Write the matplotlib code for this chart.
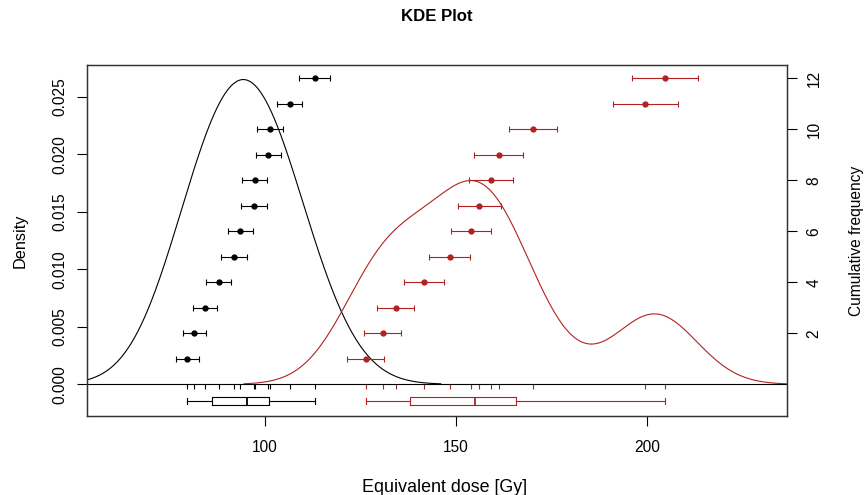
import matplotlib
matplotlib.use("Agg")
import matplotlib.pyplot as plt
import numpy as np

plt.rcParams['font.family'] = ['Liberation Sans', 'DejaVu Sans']

# equivalent doses (sorted) and their errors
de_black = [79.7, 81.5, 84.3, 87.9, 91.9, 93.5, 97.0, 97.3, 100.9, 101.3, 106.4, 113.0]
err_black = [2.9, 3.1, 3.1, 3.3, 3.4, 3.3, 3.4, 3.3, 3.4, 3.4, 3.3, 4.0]
de_red = [126.3, 130.8, 134.2, 141.6, 148.3, 153.9, 156.1, 159.1, 161.1, 170.2, 199.5, 204.7]
err_red = [4.8, 4.8, 4.9, 5.2, 5.3, 5.3, 5.6, 5.7, 6.3, 6.3, 8.5, 8.6]
bw_black = 11.0
bw_red = 10.6

density_ticks = [0.000, 0.005, 0.010, 0.015, 0.020, 0.025]
freq_ticks = [2, 4, 6, 8, 10, 12]
dose_ticks = [100, 150, 200]

BLACK = '#000000'
RED = '#B22222'


def kde(values, bw):
  # gaussian kernel density, range like R's density() (cut = 3)
  v = np.asarray(values)
  grid = np.linspace(v.min() - 3 * bw, v.max() + 3 * bw, 512)
  d = np.exp(-0.5 * ((grid[:, None] - v[None, :]) / bw) ** 2).sum(axis=1)
  d = d / (len(v) * bw * np.sqrt(2 * np.pi))
  return grid, d


def box_stats(values):
  # Tukey hinges like R's fivenum()
  v = np.sort(np.asarray(values))
  n = len(v)
  n4 = np.floor((n + 3) / 2) / 2
  idx = np.array([1, n4, (n + 1) / 2, n + 1 - n4, n]) - 1
  fn = 0.5 * (v[np.floor(idx).astype(int)] + v[np.ceil(idx).astype(int)])
  iqr = fn[3] - fn[1]
  lo = v[v >= fn[1] - 1.5 * iqr].min()
  hi = v[v <= fn[3] + 1.5 * iqr].max()
  return dict(med=fn[2], q1=fn[1], q3=fn[3], whislo=lo, whishi=hi, fliers=[])


fig = plt.figure(figsize=(8.67, 4.95), dpi=100)
ax = fig.add_axes([87 / 867, 79 / 495, 700 / 867, 351 / 495])
ax2 = ax.twinx()

ax.set_xlim(53.4, 236.6)
ax.set_ylim(-0.002757, 0.02777)
ax2.set_ylim(-1.243, 12.52)

for vals, errs, bw, col in [(de_black, err_black, bw_black, BLACK),
                            (de_red, err_red, bw_red, RED)]:
  g, d = kde(vals, bw)
  ax.plot(g, d, color=col, lw=0.8)
  # rug
  ax.vlines(vals, -0.00045, 0, color=col, lw=0.8)
  # boxplot
  ax.bxp([box_stats(vals)], positions=[-0.00145], widths=0.0007, vert=False,
         showfliers=False, capwidths=0.00045,
         boxprops=dict(color=col, lw=0.8),
         whiskerprops=dict(color=col, lw=0.8),
         capprops=dict(color=col, lw=0.8),
         medianprops=dict(color=col, lw=1.3))
  # cumulative frequency with error bars
  ax2.errorbar(vals, np.arange(1, len(vals) + 1), xerr=errs, fmt='o', color=col,
               ms=3.5, lw=0.8, capsize=2.5, capthick=0.8)

ax.axhline(0, color='black', lw=0.8)

ax.set_xticks(dose_ticks)
ax.set_xticklabels([str(t) for t in dose_ticks])
ax.set_yticks(density_ticks)
ax.set_yticklabels(['%.3f' % t for t in density_ticks], rotation=90, va='center')
ax2.set_yticks(freq_ticks)
ax2.set_yticklabels([str(t) for t in freq_ticks], rotation=90, va='center')

ax.tick_params(axis='x', length=7, width=0.8, labelsize=11.2, pad=10)
ax.tick_params(axis='y', length=7, width=0.8, labelsize=11.2, pad=7)
ax2.tick_params(axis='y', length=7, width=0.8, labelsize=11.2, pad=7)
for a in (ax, ax2):
  for s in a.spines.values():
    s.set_linewidth(0.9)
    s.set_color('#333333')

fig.text(436.7 / 867, 1 - 16.5 / 495, 'KDE Plot', ha='center', va='center',
         fontsize=12.1, fontweight='bold')
fig.text(445 / 867, 1 - 492 / 495, 'Equivalent dose [Gy]', ha='center',
         va='baseline', fontsize=12.9)
fig.text(20 / 867, 1 - 240.5 / 495, 'Density', rotation=90, ha='center',
         va='center', fontsize=11.7)
fig.text(856 / 867, 1 - 240.5 / 495, 'Cumulative frequency', rotation=90,
         ha='center', va='center', fontsize=11.2)

fig.savefig('out.png', dpi=100)
